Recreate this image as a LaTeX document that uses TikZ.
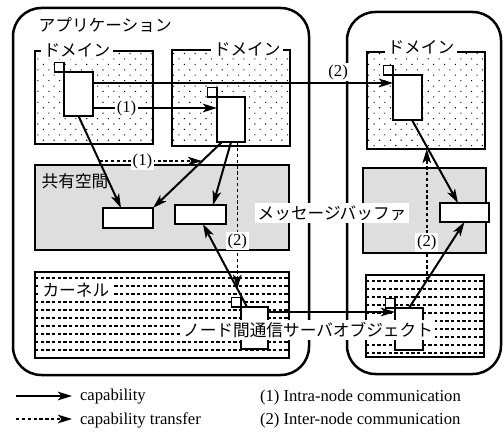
\documentclass[tikz,border=0pt]{standalone}
\usepackage{fontspec}
\setmainfont{Liberation Serif}
\newfontfamily\jpfont{Noto Sans CJK JP}
\usepackage{tikz}
\usetikzlibrary{arrows.meta, positioning, patterns.meta}

\begin{document}
\begin{tikzpicture}[
  x=0.6pt, y=-0.6pt,
  font=\fontsize{10}{12}\selectfont,
  every node/.style={inner sep=0pt, outer sep=0pt},
  sz/.style 2 args={minimum width=#1*0.6pt, minimum height=#2*0.6pt},
  frameBox/.style={rectangle, rounded corners=17pt, draw, line width=1.5pt, anchor=north west},
  domainBox/.style={rectangle, draw, line width=0.9pt, anchor=north west,
    pattern={Dots[distance=4.6pt, angle=45, radius=0.45pt]}},
  sharedBox/.style={rectangle, draw, line width=0.9pt, fill=black!13, anchor=north west},
  kernelBox/.style={rectangle, draw, line width=0.9pt, anchor=north west},
  kLine/.style={line width=0.7pt, dash pattern=on 2pt off 1.4pt},
  objBox/.style={rectangle, draw, fill=white, line width=0.9pt, anchor=north west},
  capSq/.style={rectangle, draw, fill=white, line width=0.8pt, minimum size=5.6pt},
  jpText/.style={font=\jpfont\fontsize{10}{12}\selectfont, inner sep=1pt},
  jpTag/.style={jpText, fill=white, inner sep=1.5pt},
  numTag/.style={fill=white, inner sep=1pt},
  capArrow/.style={-{Stealth[length=8.5pt, width=5.2pt, inset=2.2pt]}, line width=1.2pt},
  moveArrow/.style={-{Stealth[length=8.5pt, width=5.2pt, inset=2.2pt]}, line width=0.9pt, dash pattern=on 2pt off 1.5pt},
]
\useasboundingbox (0,0) rectangle (504,433);

% ------------------- node frames -------------------
\node[frameBox, sz={296}{367}] (app) at (13,8) {};
\node[frameBox, sz={154}{362}] (remote) at (347,12) {};
\node[jpText, anchor=west] (appLabel) at (37,25) {アプリケーション};

% ------------------- domains -------------------
\node[domainBox, sz={118}{93}] (dom1) at (35,51) {};
\node[domainBox, sz={118}{96}] (dom2) at (172,50) {};
\node[domainBox, sz={118}{97}] (dom3) at (367,52) {};
\node[jpTag, anchor=west] (dom1Label) at (41,50) {ドメイン};
\node[jpTag, anchor=east] (dom2Label) at (283,49) {ドメイン};
\node[jpTag, anchor=west] (dom3Label) at (385,47) {ドメイン};

% ------------------- shared spaces -------------------
\node[sharedBox, sz={254}{85}] (shr1) at (35,165) {};
\node[sharedBox, sz={123}{85}] (shr2) at (363,168) {};
\node[jpText, anchor=west] (shrLabel) at (40,181) {共有空間};

% ------------------- kernels -------------------
\node[kernelBox, sz={254}{86}] (krn1) at (35,272) {};
\node[kernelBox, sz={118}{82}] (krn2) at (366,275) {};
\foreach \dy in {6,14,...,78} {
  \draw[kLine] ([yshift=-\dy*0.6pt]krn1.north west) -- ([yshift=-\dy*0.6pt]krn1.north east);
  \draw[kLine] ([yshift=-\dy*0.6pt]krn2.north west) -- ([yshift=-\dy*0.6pt]krn2.north east);
}
\node[jpTag, anchor=west] (krnLabel) at (40,290) {カーネル};

% ------------------- objects and buffers -------------------
\node[objBox, sz={29}{44}] (objA) at (64,72) {};
\node[objBox, sz={28}{45}] (objB) at (217,97) {};
\node[objBox, sz={29}{45}] (objC) at (393,75) {};
\node[objBox, sz={27}{42}] (srv1) at (241,307) {};
\node[objBox, sz={28}{42}] (srv2) at (395,308) {};
\node[objBox, sz={50}{20}] (buf1) at (103,208) {};
\node[objBox, sz={51}{19}] (buf2) at (175,205) {};
\node[objBox, sz={49}{19}] (buf3) at (440,203) {};
\foreach \o in {objA, objB, objC, srv1, srv2}
  \node[capSq, above left=0pt of \o.north west] (cap\o) {};

% ------------------- capabilities -------------------
\draw[capArrow] ([yshift=-6.6pt]objA.north east) -- ([yshift=-6.6pt]objA.north east -| objC.west)
  node[numTag, pos=0.817, above=1pt] (lbl2a) {(2)};
\draw[capArrow] ([yshift=4.8pt]objA.south east) -- ([yshift=4.8pt]objA.south east -| objB.west)
  node[numTag, pos=0.27] (lbl1a) {(1)};
\draw[capArrow] (objA.south) -- ([xshift=-4.2pt]buf1.north) coordinate[pos=0.49] (tA);
\draw[capArrow] ([xshift=3pt]objB.south west) -- (buf1.north east) coordinate[pos=0.29] (tB);
\draw[capArrow] (objB.south) -- ([xshift=7.5pt]buf2.north);
\draw[capArrow] ([xshift=3.6pt]srv1.north west) -- ([xshift=1.5pt]buf2.south) coordinate[pos=0.22] (tS);
\draw[capArrow] ([yshift=-3pt]srv1.north east) -- ([yshift=-3pt]srv1.north east -| srv2.west);
\draw[capArrow] ([xshift=2.7pt]objC.south) -- ([xshift=-3.9pt]buf3.north) coordinate[pos=0.35] (tC);
\draw[capArrow] (srv2.north) -- (buf3.south) coordinate[pos=0.32] (tR);

% capability transfers
\draw[moveArrow] (tA) -- (tA -| tB) node[numTag, pos=0.42] (lbl1b) {(1)};
\draw[moveArrow] (tS |- objB.south) -- (tS) node[numTag, pos=0.676] (lbl2b) {(2)};
\draw[moveArrow] (tR) -- (tR |- tC) node[numTag, pos=0.29] (lbl2c) {(2)};

% ------------------- texts on top -------------------
\node[jpTag] (bufLabel) at (332,213) {メッセージバッファ};
\node[jpTag] (srvLabel) at (308,330) {ノード間通信サーバオブジェクト};

% ------------------- legend -------------------
\coordinate (legA1) at (16,396);
\coordinate (legA2) at (72,396);
\coordinate (legB1) at (16,419);
\coordinate (legB2) at (72,419);
\draw[capArrow] (legA1) -- (legA2);
\draw[moveArrow] (legB1) -- (legB2);
\node[anchor=west] (legCap) at (80,397) {capability};
\node[anchor=west] (legMove) at (80,420) {capability transfer};
\node[anchor=west] (legIntra) at (260,397) {(1) Intra-node communication};
\node[anchor=west] (legInter) at (260,420) {(2) Inter-node communication};

\end{tikzpicture}
\end{document}
